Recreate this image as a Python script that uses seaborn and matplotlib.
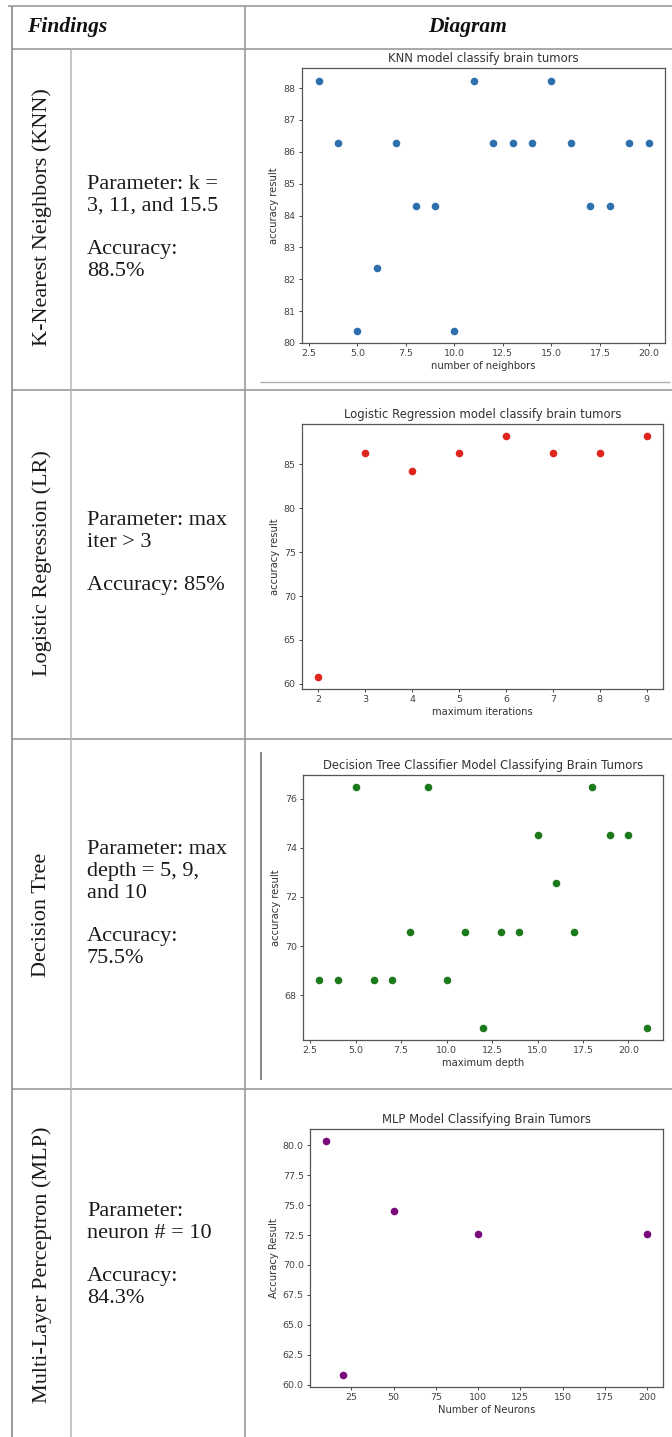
import matplotlib
matplotlib.use("Agg")
import matplotlib.pyplot as plt
import seaborn as sns
import pandas as pd

# ---- chart data (accuracy in %) ----
knn_k = list(range(3, 21))
knn_acc = [88.24, 86.27, 80.39, 82.35, 86.27, 84.31, 84.31, 80.39, 88.24,
           86.27, 86.27, 86.27, 88.24, 86.27, 84.31, 84.31, 86.27, 86.27]

lr_iter = list(range(2, 10))
lr_acc = [60.78, 86.27, 84.31, 86.27, 88.24, 86.27, 86.27, 88.24]

dt_depth = list(range(3, 22))
dt_acc = [68.63, 68.63, 76.47, 68.63, 68.63, 70.59, 76.47, 68.63, 70.59, 66.67,
          70.59, 70.59, 74.51, 72.55, 70.59, 76.47, 74.51, 74.51, 66.67]

mlp_neurons = [10, 20, 50, 100, 200]
mlp_acc = [80.39, 60.78, 74.51, 72.55, 72.55]

# ---- table text ----
model_names = ["K-Nearest Neighbors (KNN)", "Logistic Regression (LR)",
               "Decision Tree", "Multi-Layer Perceptron (MLP)"]
param_text = ["Parameter: k =\n3, 11, and 15.5", "Parameter: max\niter > 3",
              "Parameter: max\ndepth = 5, 9,\nand 10", "Parameter:\nneuron # = 10"]
acc_text = ["Accuracy:\n88.5%", "Accuracy: 85%", "Accuracy:\n75.5%", "Accuracy:\n84.3%"]

chart_titles = ["KNN model classify brain tumors",
                "Logistic Regression model classify brain tumors",
                "Decision Tree Classifier Model Classifying Brain Tumors",
                "MLP Model Classifying Brain Tumors"]
x_labels = ["number of neighbors", "maximum iterations", "maximum depth", "Number of Neurons"]
y_labels = ["accuracy result", "accuracy result", "accuracy result", "Accuracy Result"]
colors = ["#2e6fb0", "#e0251d", "#1c7a1c", "#7a0a7a"]

W, H = 672, 1437
sns.set_style("ticks")
plt.rcParams["font.family"] = ["DejaVu Sans"]

fig = plt.figure(figsize=(W / 100, H / 100), dpi=100)


def px_rect(x0, y0, x1, y1):
    return [x0 / W, 1 - y1 / H, (x1 - x0) / W, (y1 - y0) / H]


# table overlay in pixel coordinates
tab = fig.add_axes([0, 0, 1, 1])
tab.set_xlim(0, W)
tab.set_ylim(H, 0)
tab.axis("off")

line_kw = dict(color="#9a9a9a", linewidth=1.2)
tab.hlines(6, 8, W, **line_kw)
tab.hlines([49, 390, 739, 1089], 12, W, **line_kw)
tab.vlines(12, 6, H, color="#8a8a8a", linewidth=1.2)
tab.vlines(71, 49, H, color="#b5b5b5", linewidth=1.1)
tab.vlines(245, 6, H, **line_kw)
# leftovers from the pasted screenshots
tab.hlines(382, 260, 670, color="#b0b0b0", linewidth=1.0)
tab.vlines(261, 752, 1080, color="#707070", linewidth=1.2)

serif = ["Liberation Serif", "DejaVu Serif"]
tab.text(27, 27, "Findings", family=serif, fontsize=15.5, fontweight="bold",
         fontstyle="italic", ha="left", va="center", color="#111111")
tab.text(468, 27, "Diagram", family=serif, fontsize=15.5, fontweight="bold",
         fontstyle="italic", ha="center", va="center", color="#111111")

label_y = [217, 563, 915, 1265]
body_y = [228, 553, 904, 1255]
for name, par, acc, ly, by in zip(model_names, param_text, acc_text, label_y, body_y):
    tab.text(42, ly, name, family=serif, fontsize=16, rotation=90,
             ha="center", va="center", color="#1a1a1a")
    tab.text(87, by, par + "\n\n" + acc, family=serif, fontsize=16,
             ha="left", va="center", linespacing=1.2, color="#1a1a1a")

# ---- the four scatter charts ----
frames = [(302, 68, 665, 343), (302, 424, 663, 689),
          (303, 775, 663, 1040), (310, 1129, 663, 1387)]
datasets = [(knn_k, knn_acc), (lr_iter, lr_acc), (dt_depth, dt_acc), (mlp_neurons, mlp_acc)]

for frame, (xs, ys), title, xl, yl, c in zip(frames, datasets, chart_titles,
                                             x_labels, y_labels, colors):
    ax = fig.add_axes(px_rect(*frame))
    df = pd.DataFrame({"x": xs, "y": ys})
    sns.scatterplot(data=df, x="x", y="y", color=c, s=30, linewidth=0, ax=ax)
    ax.set_title(title, fontsize=8.4, color="#333333", pad=4)
    ax.set_xlabel(xl, fontsize=7.2, color="#333333", labelpad=2)
    ax.set_ylabel(yl, fontsize=7.2, color="#333333", labelpad=3)
    ax.tick_params(labelsize=6.8, colors="#444444", length=2.5, width=0.7, pad=2)
    for sp in ax.spines.values():
        sp.set_color("#555555")
        sp.set_linewidth(0.9)

fig.savefig("out.png", dpi=100)
